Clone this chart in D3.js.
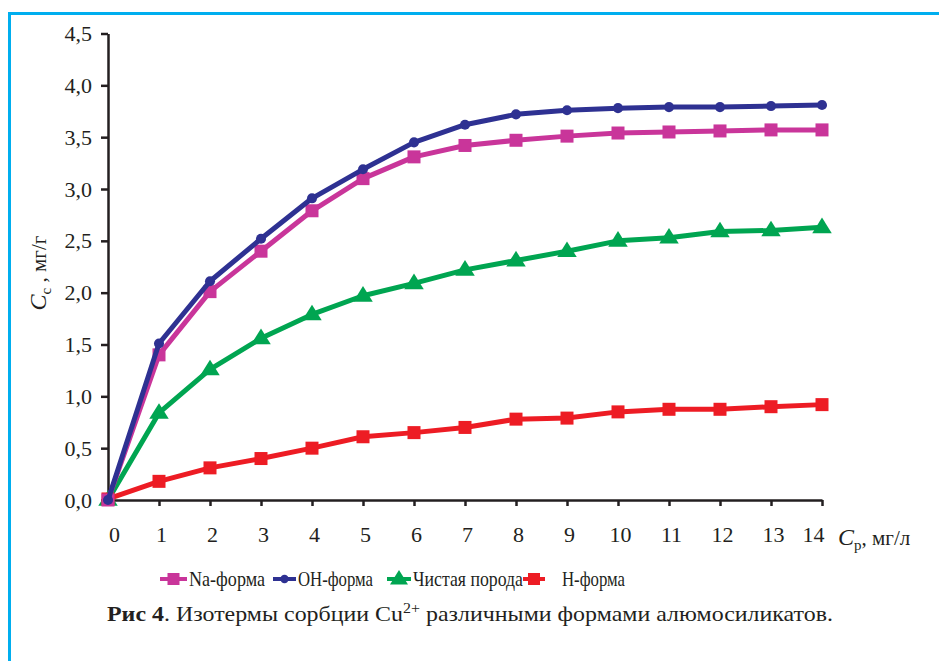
<!DOCTYPE html>
<html>
<head>
<meta charset="utf-8">
<script src="https://cdn.jsdelivr.net/npm/d3@7"></script>
<style>
  body { margin: 0; background: #fff; }
</style>
</head>
<body>
<div id="content"></div>
<script>
const W = 939, H = 661;
const SERIF = "'Liberation Serif', 'Times New Roman', serif";

// concentrations Cр, mg/l
const xs = [0, 1, 2, 3, 4, 5, 6, 7, 8, 9, 10, 11, 12, 13, 14];
// sorption Cс, mg/g
const naForm   = [0, 1.40, 2.01, 2.40, 2.79, 3.10, 3.31, 3.42, 3.47, 3.51, 3.54, 3.55, 3.56, 3.57, 3.57];
const ohForm   = [0, 1.51, 2.11, 2.52, 2.91, 3.19, 3.45, 3.62, 3.72, 3.76, 3.78, 3.79, 3.79, 3.80, 3.81];
const pureRock = [0, 0.84, 1.26, 1.56, 1.79, 1.97, 2.09, 2.22, 2.31, 2.40, 2.50, 2.53, 2.59, 2.60, 2.63];
const hForm    = [0.01, 0.18, 0.31, 0.40, 0.50, 0.61, 0.65, 0.70, 0.78, 0.79, 0.85, 0.875, 0.875, 0.90, 0.92];
const yTicks = [0, 0.5, 1, 1.5, 2, 2.5, 3, 3.5, 4, 4.5];

const series = [
    {name: "Na-форма",       values: naForm,   color: "#c9359a", marker: "square"},
    {name: "OH-форма",       values: ohForm,   color: "#2e3192", marker: "circle"},
    {name: "Чистая порода",  values: pureRock, color: "#00a551", marker: "triangle"},
    {name: "H-форма",        values: hForm,    color: "#ed1c24", marker: "square"}
];

const svg = d3.select("#content")
    .append("svg")
    .attr("width", W)
    .attr("height", H);

svg.append("rect").attr("width", W).attr("height", H).attr("fill", "#fff");

// blue frame (top + left visible)
svg.append("path")
    .attr("d", `M9.5,${H} V13.5 H${W}`)
    .attr("fill", "none")
    .attr("stroke", "#00aeef")
    .attr("stroke-width", 3);

const x = d3.scaleLinear().domain([0, 14]).range([108, 822]);
const y = d3.scaleLinear().domain([0, 4.5]).range([500, 33.5]);

const fmt = d => d3.format(".1f")(d).replace(".", ",");

const gy = svg.append("g")
    .attr("transform", `translate(${x(0)},0)`)
    .call(d3.axisLeft(y).tickValues(yTicks).tickFormat(fmt).tickSize(7).tickSizeOuter(0).tickPadding(9));
const gx = svg.append("g")
    .attr("transform", `translate(0,${y(0)})`)
    .call(d3.axisBottom(x).tickValues(xs).tickFormat(d3.format("d")).tickSize(6).tickSizeOuter(0).tickPadding(20));

[gx, gy].forEach(g => {
    g.attr("font-family", null).attr("font-size", null);
    g.select(".domain").attr("stroke", "#231f20").attr("stroke-width", 2.5);
    g.selectAll(".tick line").attr("stroke", "#231f20").attr("stroke-width", 2.5);
    g.selectAll(".tick text")
        .style("font-family", SERIF)
        .style("font-size", "22px")
        .attr("fill", "#231f20");
});
// the original nudges the first and last labels
gx.selectAll(".tick text").attr("dx", d => d == 0 ? 6 : d == 14 ? -9 : 2);

// markers
function drawMarker(g, type, cx, cy, color, s){
    if(type == "square"){
        g.append("rect")
            .attr("x", cx - s/2).attr("y", cy - s/2)
            .attr("width", s).attr("height", s)
            .attr("fill", color);
    } else if(type == "circle"){
        g.append("circle")
            .attr("cx", cx).attr("cy", cy).attr("r", s*0.42)
            .attr("fill", color);
    } else {
        const r = s*0.75;
        g.append("path")
            .attr("d", `M${cx},${cy - r} L${cx + r},${cy + r*0.6} L${cx - r},${cy + r*0.6} Z`)
            .attr("fill", color);
    }
}

const line = d3.line()
    .x((d, i) => x(xs[i]))
    .y(d => y(d));

// draw in back-to-front order similar to the original
[series[2], series[3], series[0], series[1]].forEach(s => {
    const g = svg.append("g");
    g.append("path")
        .attr("d", line(s.values))
        .attr("fill", "none")
        .attr("stroke", s.color)
        .attr("stroke-width", 5)
        .attr("stroke-linejoin", "round");
    s.values.forEach((v, i) => drawMarker(g, s.marker, x(xs[i]), y(v), s.color, s.marker == "circle" ? 12 : 13));
});

// axis titles
const yl = svg.append("text")
    .attr("transform", "translate(46,273) rotate(-90)")
    .attr("text-anchor", "middle")
    .style("font-family", SERIF)
    .style("font-size", "21px")
    .attr("fill", "#231f20");
yl.append("tspan").attr("font-style", "italic").style("font-size", "24px").text("C");
yl.append("tspan").style("font-size", "15px").attr("dy", 5).text("с");
yl.append("tspan").attr("dy", -5).text(" , мг/г");

const xl = svg.append("text")
    .attr("x", 838).attr("y", 545)
    .style("font-family", SERIF)
    .style("font-size", "21px")
    .attr("fill", "#231f20");
xl.append("tspan").attr("font-style", "italic").style("font-size", "24px").text("C");
xl.append("tspan").style("font-size", "15px").attr("dy", 5).text("р");
xl.append("tspan").attr("dy", -5).text(", мг/л");

// legend
const legendPos = [160, 273, 387, 523];
const legendText = [189, 298, 413, 562];
const legendWidth = [76, 75, 110, 63];
series.forEach((s, i) => {
    const g = svg.append("g");
    const x0 = legendPos[i], x1 = legendText[i] - (i == 3 ? 17 : 2);
    g.append("line")
        .attr("x1", x0).attr("x2", x1)
        .attr("y1", 579).attr("y2", 579)
        .attr("stroke", s.color).attr("stroke-width", 4);
    drawMarker(g, s.marker, (x0 + x1)/2, 579, s.color, s.marker == "circle" ? 10 : 12);
    g.append("text")
        .attr("x", legendText[i]).attr("y", 586)
        .style("font-family", SERIF)
        .style("font-size", "22px")
        .attr("fill", "#231f20")
        .attr("textLength", legendWidth[i])
        .attr("lengthAdjust", "spacingAndGlyphs")
        .text(s.name);
});

// caption
const cap = svg.append("text")
    .attr("x", 107).attr("y", 621)
    .style("font-family", SERIF)
    .style("font-size", "21px")
    .attr("fill", "#231f20")
    .attr("textLength", 726)
    .attr("lengthAdjust", "spacingAndGlyphs");
cap.append("tspan").attr("font-weight", "bold").text("Рис 4");
cap.append("tspan").text(". Изотермы сорбции Cu");
cap.append("tspan").style("font-size", "14px").attr("dy", -8).text("2+");
cap.append("tspan").attr("dy", 8).text(" различными формами алюмосиликатов.");
</script>
</body>
</html>
